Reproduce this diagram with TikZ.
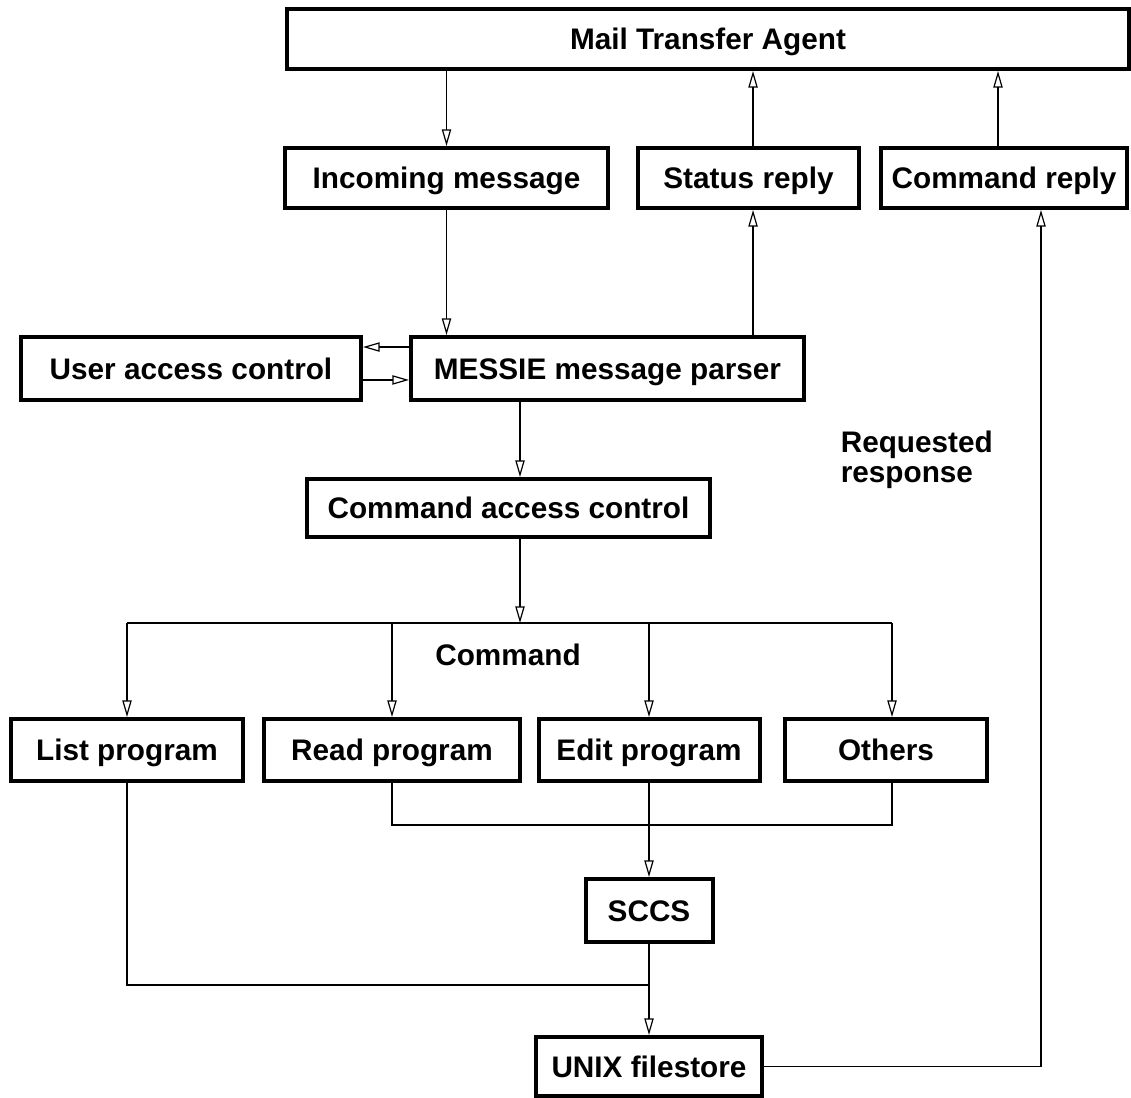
\documentclass[tikz,border=0pt]{standalone}
\usepackage{fontspec}
\setmainfont{Liberation Sans}
\usetikzlibrary{arrows.meta}

\tikzset{every picture/.style={line width=1.2pt}}
\tikzset{
  unitbox/.style={draw, line width=3pt, inner sep=0pt, text height=16pt, text depth=0pt, font=\fontsize{22.3}{22.5}\selectfont\bfseries},
  flow/.style={-{Triangle[open,length=12.5pt,width=7pt,line width=0.9pt]}, line width=1.2pt},
  conn/.style={line width=1.2pt},
}

\begin{document}
\begin{tikzpicture}[x=0.75pt,y=0.75pt,yscale=-1,xscale=1]
\useasboundingbox (0,0) rectangle (1131,1098);

%Shape: Rectangle [id:mta]
\node [unitbox, minimum width=631.5pt, minimum height=45pt] (mta) at (708,39) {Mail Transfer Agent};
%Shape: Rectangle [id:incoming]
\node [unitbox, minimum width=242.25pt, minimum height=45pt] (incoming) at (446.5,178) {Incoming message};
%Shape: Rectangle [id:status]
\node [unitbox, minimum width=165.75pt, minimum height=45pt] (status) at (748.5,178) {Status reply};
%Shape: Rectangle [id:cmdreply]
\node [unitbox, minimum width=184.5pt, minimum height=45pt] (cmdreply) at (1004,178) {Command reply};
%Shape: Rectangle [id:user]
\node [unitbox, minimum width=255pt, minimum height=47.25pt] (user) at (191,368.5) {User access control};
%Shape: Rectangle [id:messie]
\node [unitbox, minimum width=294.75pt, minimum height=47.25pt] (messie) at (607.5,368.5) {MESSIE message parser};
%Shape: Rectangle [id:cac]
\node [unitbox, minimum width=302.25pt, minimum height=43.5pt] (cac) at (508.5,508) {Command access control};
%Shape: Rectangle [id:list]
\node [unitbox, minimum width=174pt, minimum height=46.5pt] (list) at (127,750) {List program};
%Shape: Rectangle [id:read]
\node [unitbox, minimum width=192pt, minimum height=46.5pt] (read) at (392,750) {Read program};
%Shape: Rectangle [id:edit]
\node [unitbox, minimum width=165.75pt, minimum height=46.5pt] (edit) at (649,750) {Edit program};
%Shape: Rectangle [id:others]
\node [unitbox, minimum width=151.5pt, minimum height=46.5pt] (others) at (886,750) {Others};
%Shape: Rectangle [id:sccs]
\node [unitbox, minimum width=95.25pt, minimum height=47.25pt] (sccs) at (649,910.5) {SCCS};
%Shape: Rectangle [id:unix]
\node [unitbox, minimum width=169.5pt, minimum height=44.25pt] (unix) at (649,1066.5) {UNIX filestore};

\coordinate (split) at (520,623);
\coordinate (merge) at (649,825);
\coordinate (gather) at (649,985);

%Straight Lines [id:top]
\draw [flow] (incoming.north |- mta.south) -- (incoming.north);
\draw [flow] ([xshift=3.4pt]status.north) -- ([xshift=3.4pt]status.north |- mta.south);
\draw [flow] ([xshift=-4.5pt]cmdreply.north) -- ([xshift=-4.5pt]cmdreply.north |- mta.south);
%Straight Lines [id:parser]
\draw [flow] (incoming.south) -- (incoming.south |- messie.north);
\draw [flow] ([xshift=3.4pt]status.south |- messie.north) -- ([xshift=3.4pt]status.south);
\draw [flow] ([yshift=-16.1pt]messie.west) -- ([yshift=-16.1pt]messie.west -| user.east);
\draw [flow] ([yshift=8.6pt]user.east) -- ([yshift=8.6pt]user.east -| messie.west);
\draw [flow] (messie.south -| split) -- (cac.north -| split);
%Straight Lines [id:command]
\draw [flow] (cac.south -| split) -- (split);
\draw [conn] (list.north |- split) -- ([xshift=4.5pt]others.north |- split);
\draw [flow] (list.north |- split) -- (list.north);
\draw [flow] (read.north |- split) -- (read.north);
\draw [flow] (edit.north |- split) -- (edit.north);
\draw [flow] ([xshift=4.5pt]others.north |- split) -- ([xshift=4.5pt]others.north);
%Straight Lines [id:store]
\draw [conn] (read.south) |- (merge) -| ([xshift=4.5pt]others.south);
\draw [flow] (edit.south) -- (sccs.north);
\draw [conn] (list.south) |- (gather);
\draw [flow] (sccs.south) -- (unix.north);
\draw [flow] (unix.east) -| ([xshift=27.75pt]cmdreply.south);

% Text Node
\node [anchor=west, inner sep=0pt, align=left, font=\fontsize{22.3}{22.5}\selectfont\bfseries] (reqlabel) at (840,460) {Requested\\response};
% Text Node
\node [inner sep=0pt, font=\fontsize{22.3}{22.5}\selectfont\bfseries] (cmdlabel) at (508,655) {Command};

\end{tikzpicture}
\end{document}
